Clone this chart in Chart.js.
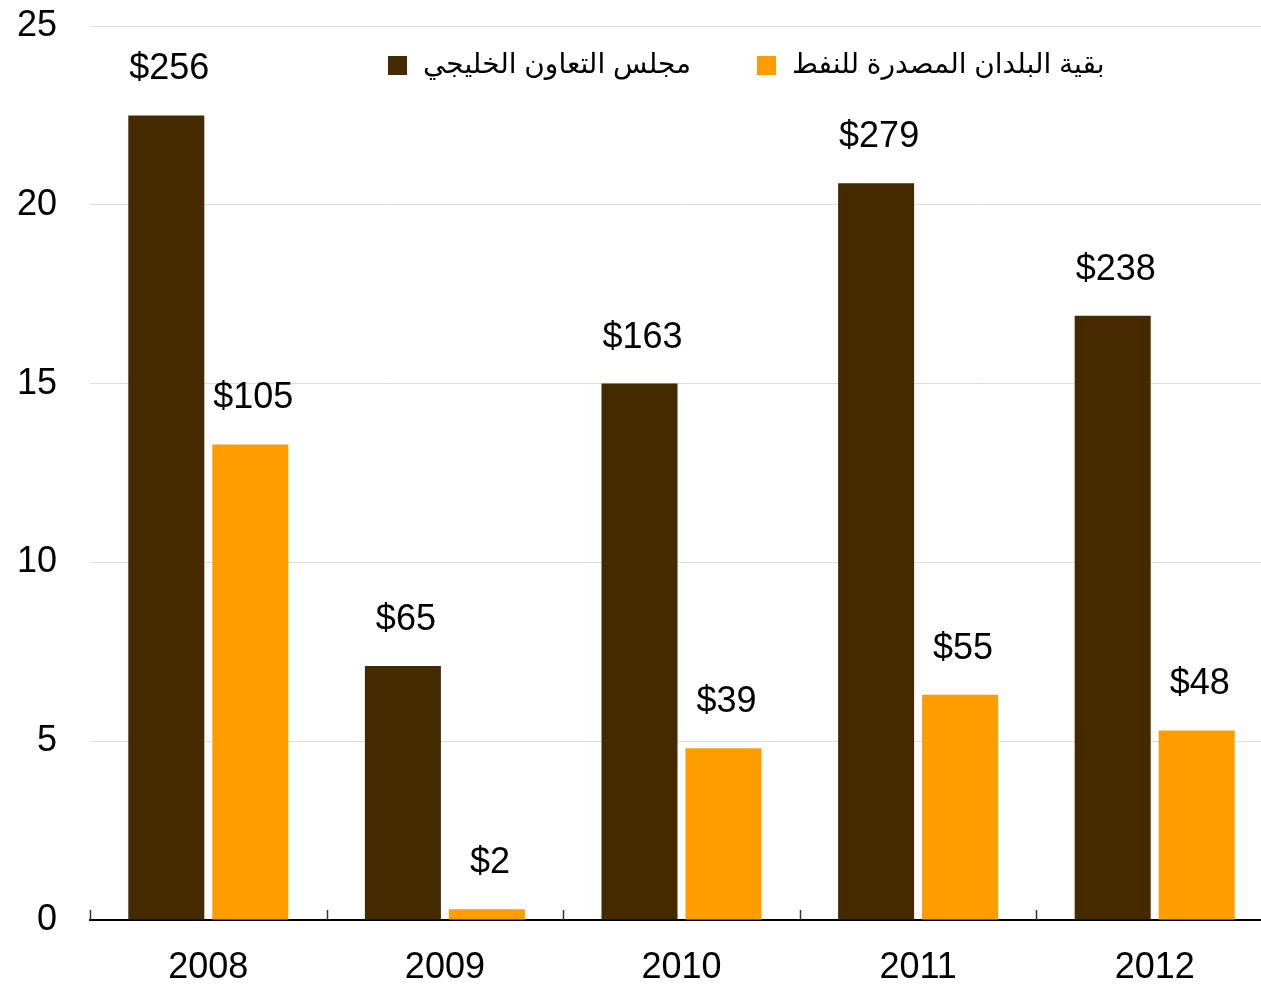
<!DOCTYPE html>
<html>
<head>
<meta charset="utf-8">
<script src="https://cdn.jsdelivr.net/npm/chart.js@4/dist/chart.umd.min.js"></script>
<style>
html, body { margin: 0; padding: 0; background: #fff; overflow: hidden; width: 1261px; height: 987px; }
#wrap { position: absolute; left: 0; top: 0; width: 1273px; height: 987px; }
</style>
</head>
<body>
<div id="wrap"><canvas id="c" width="1273" height="987"></canvas></div>
<script>
const categories = ['2008', '2009', '2010', '2011', '2012'];
const seriesNames = ['مجلس التعاون الخليجي', 'بقية البلدان المصدرة للنفط'];
const gccValues = [22.5, 7.1, 15.0, 20.6, 16.9];
const restValues = [13.3, 0.3, 4.8, 6.3, 5.3];
const gccLabels = ['$256', '$65', '$163', '$279', '$238'];
const restLabels = ['$105', '$2', '$39', '$55', '$48'];
const yTicks = [0, 5, 10, 15, 20, 25];

const BROWN = '#452a00';
const ORANGE = '#ff9c00';
const FONT = '"Liberation Sans", Arial, "DejaVu Sans", sans-serif';

const valueLabelPlugin = {
  id: 'valueLabels',
  afterDatasetsDraw(chart) {
    const ctx = chart.ctx;
    ctx.save();
    ctx.font = '36px ' + FONT;
    ctx.fillStyle = '#000';
    ctx.textAlign = 'center';
    ctx.textBaseline = 'middle';
    chart.data.datasets.forEach((ds, di) => {
      const meta = chart.getDatasetMeta(di);
      meta.data.forEach((bar, i) => {
        ctx.fillText(ds.valueLabels[i], bar.x + 3, bar.y - 46);
      });
    });
    ctx.restore();
  }
};

const xTickPlugin = {
  id: 'xTicksInside',
  afterDraw(chart) {
    const xs = chart.scales.x;
    const ctx = chart.ctx;
    const half = (xs.getPixelForValue(1) - xs.getPixelForValue(0)) / 2;
    ctx.save();
    ctx.strokeStyle = '#333';
    ctx.lineWidth = 1.5;
    for (let i = 0; i <= categories.length; i++) {
      const x = Math.round(xs.getPixelForValue(i) - half) + 0.5;
      ctx.beginPath();
      ctx.moveTo(x, xs.top - 10);
      ctx.lineTo(x, xs.top);
      ctx.stroke();
    }
    ctx.restore();
  }
};

const legendPlugin = {
  id: 'customLegend',
  afterDraw(chart) {
    const ctx = chart.ctx;
    ctx.save();
    ctx.font = '28px ' + FONT;
    ctx.textBaseline = 'middle';
    ctx.textAlign = 'left';
    const starts = [388, 757];
    const cy = 65;
    chart.data.datasets.forEach((ds, i) => {
      const x = starts[i];
      ctx.fillStyle = ds.backgroundColor;
      ctx.fillRect(x, cy - 9, 19, 19);
      ctx.fillStyle = '#000';
      ctx.fillText(ds.label, x + 35, cy);
    });
    ctx.restore();
  }
};

new Chart(document.getElementById('c'), {
  type: 'bar',
  data: {
    labels: categories,
    datasets: [
      { label: seriesNames[0], data: gccValues, valueLabels: gccLabels, backgroundColor: BROWN,
        barPercentage: 0.905, categoryPercentage: 0.71 },
      { label: seriesNames[1], data: restValues, valueLabels: restLabels, backgroundColor: ORANGE,
        barPercentage: 0.905, categoryPercentage: 0.71 }
    ]
  },
  options: {
    responsive: false,
    animation: false,
    devicePixelRatio: 1,
    layout: { padding: { top: 26, left: 0, right: 0, bottom: 0 } },
    plugins: { legend: { display: false }, tooltip: { enabled: false } },
    scales: {
      x: {
        offset: true,
        afterFit(scale) { scale.height = 67; scale.paddingLeft = 0; scale.paddingRight = 0; },
        grid: { display: false, drawTicks: false },
        border: { display: true, color: '#000', width: 2 },
        ticks: { color: '#000', font: { size: 36, family: FONT }, padding: 26 }
      },
      y: {
        min: 0, max: 25,
        afterFit(scale) { scale.width = 90; scale.paddingTop = 0; scale.paddingBottom = 0; },
        afterBuildTicks(scale) { scale.ticks = yTicks.map(v => ({ value: v })); },
        grid: { color: '#dddddd', lineWidth: 1, drawTicks: false },
        border: { display: false },
        ticks: { color: '#000', font: { size: 36, family: FONT }, padding: 33 }
      }
    }
  },
  plugins: [valueLabelPlugin, xTickPlugin, legendPlugin]
});
</script>
</body>
</html>
